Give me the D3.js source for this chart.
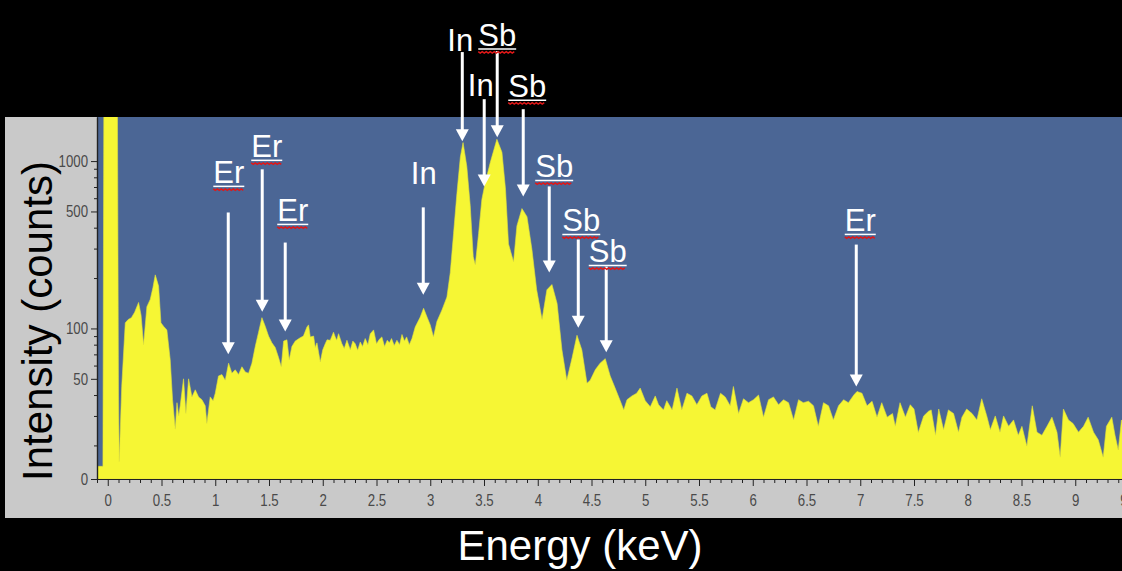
<!DOCTYPE html>
<html><head><meta charset="utf-8">
<script src="https://cdn.jsdelivr.net/npm/d3@7"></script>
<style>body{margin:0;background:#000;} svg{display:block;}</style>
</head><body>
<svg id="chart" width="1122" height="571"></svg>
<script>
// ---- Data ----
const energy = [
 -0.10,-0.045,-0.035,0.088,0.100,0.107,0.13,0.163,0.19,0.22,0.25,0.287,0.31,0.333,0.364,0.395,0.42,0.442,0.473,0.495,
 0.519,0.55,0.581,0.603,0.628,0.644,0.66,0.674,0.705,0.727,0.752,0.783,0.814,0.845,0.876,0.907,0.922,0.953,0.98,1.0,
 1.03,1.062,1.093,1.124,1.155,1.186,1.217,1.248,1.279,1.31,1.341,1.372,1.403,1.434,1.465,1.496,1.527,1.558,1.589,1.614,
 1.636,1.667,1.688,1.713,1.744,1.79,1.82,1.853,1.868,1.884,1.915,1.93,1.946,1.977,2.0,2.023,2.04,2.07,2.1,2.116,
 2.13,2.147,2.178,2.2,2.225,2.256,2.28,2.302,2.325,2.349,2.37,2.395,2.42,2.442,2.473,2.5,2.525,2.55,2.575,2.6,
 2.62,2.64,2.665,2.69,2.715,2.737,2.76,2.78,2.805,2.83,2.86,2.907,2.938,2.97,3.0,3.03,3.062,3.109,3.155,3.186,
 3.217,3.248,3.28,3.305,3.34,3.372,3.40,3.419,3.45,3.48,3.51,3.558,3.62,3.667,3.70,3.728,3.775,3.806,3.853,3.9,
 3.946,3.99,4.04,4.085,4.132,4.18,4.225,4.27,4.32,4.365,4.41,4.458,4.488,4.535,4.58,4.628,4.674,4.72,4.767,4.8,
 4.83,4.876,4.92,4.953,5.0,5.047,5.093,5.124,5.17,5.2,5.25,5.295,5.34,5.388,5.434,5.48,5.527,5.574,5.61,5.65,
 5.70,5.744,5.79,5.82,5.868,5.914,5.96,6.007,6.054,6.10,6.147,6.193,6.24,6.286,6.333,6.38,6.426,6.47,6.519,6.565,
 6.61,6.658,6.705,6.75,6.798,6.845,6.89,6.94,6.97,7.016,7.063,7.11,7.156,7.20,7.25,7.30,7.326,7.37,7.42,7.465,
 7.50,7.54,7.59,7.635,7.66,7.70,7.73,7.775,7.82,7.868,7.914,7.946,7.99,8.04,8.085,8.13,8.18,8.21,8.256,8.30,
 8.333,8.38,8.426,8.47,8.504,8.55,8.60,8.644,8.69,8.737,8.783,8.83,8.86,8.89,8.937,8.98,9.03,9.077,9.12,9.17,
 9.214,9.26,9.29,9.34,9.37,9.40,9.43,9.5
];
const counts = [
 15,15,5000,5000,40,16,45,108,113,116,125,143,120,80,135,149,175,209,179,108,
 103,98,65,37.5,25,36,30,34.5,50,31,50,39,43,39,37.5,34.5,27,39,37,41,
 52,53,49,62,54,56.6,53,59,55,54,62,78,95,116,103,90,82,77,67,59,
 84,85.5,65,78,84,88,90,102,105,89,90,77,82,63,74.5,81,85.5,85,95,89,
 85,93,81,76,85,74.5,84,81,74,83,78,87,80,93,98,81,86,89,78,85,
 82,87,79,85,80,92,84,89,80,87,102,117,132,117,105,89,110,129,154,215,
 370,640,1057,1290,930,540,268,240,370,590,735,980,1350,1130,680,320,250,410,520,465,
 296,170,113,170,183,141,74.5,49,67,91,74.5,47,49,56.6,62,66,52,44,37,32.6,
 37.5,39.5,41,44,37,34,39.5,35,32.6,37,32.6,44,32.6,41,39.5,35,39.5,41,34,32.6,
 41,39,34.5,45,31,38,36,37.5,40,29.5,37.5,39,35,37.5,36,28.4,37.5,36,36.7,34.5,
 26,36,34.5,28.4,34.5,37.5,36,40,42,41,34.5,36.7,29.5,36,29.5,31,26,36,29.5,35,
 33,23.9,30,32,32.6,23,33,24.8,32.6,31,24,29.5,33,31,28.4,38,29.5,24.8,30,24,
 30,26,28.4,23,26,19.8,34.5,24,23,26,29.5,24,17,33,28.4,27,24,26,29.5,24,
 21.6,17,26,29.5,23,18.8,28.4,25
];
const xTickValues = [0,0.5,1,1.5,2,2.5,3,3.5,4,4.5,5,5.5,6,6.5,7,7.5,8,8.5,9,9.5];
const xTickLabels = ["0","0.5","1","1.5","2","2.5","3","3.5","4","4.5","5","5.5","6","6.5","7","7.5","8","8.5","9","9.5"];
const yTickValues = [12.6,50,100,500,1000];
const yTickLabels = ["0","50","100","500","1000"];
const yMinorTicks = [20,30,40,60,70,80,90,200,300,400,600,700,800,900];
const annLabels = ["Er","Er","Er","In","In","Sb","In","Sb","Sb","Sb","Sb","Er"];
const annEnergy = [1.121,1.437,1.651,2.935,3.298,3.623,3.502,3.865,4.107,4.377,4.637,6.963];
const annTip    = [70,126,96,159,1314,1388,706,615,216,101,72,45];
const annTail   = [493,893,326,529,4481,4543,2344,2042,706,340,234,317];
const annLabelE = [1.126,1.479,1.721,2.940,3.279,3.623,3.470,3.902,4.153,4.405,4.651,7.0];
const annLabelC = [736,1053,436,726,4543,4867,2442,2409,799,380,248,380];
const xTitle = "Energy (keV)";
const yTitle = "Intensity (counts)";

// ---- Layout ----
const W = 1122, H = 571;
const plot = {left: 97, right: 1122, top: 117, bottom: 479};
const svg = d3.select("#chart");
const x = d3.scaleLinear().domain([-0.1, 9.5]).range([97, 1129]);
const y = d3.scaleLog().domain([12.6, 1834]).range([plot.bottom, plot.top]);

svg.append("rect").attr("width", W).attr("height", H).attr("fill", "#000");
svg.append("rect").attr("x", 5).attr("y", plot.top).attr("width", W - 5).attr("height", 518 - plot.top).attr("fill", "#c9c9c9");
svg.append("rect").attr("x", plot.left).attr("y", plot.top).attr("width", plot.right - plot.left).attr("height", plot.bottom - plot.top).attr("fill", "#4b6695");

svg.append("clipPath").attr("id", "clip").append("rect")
  .attr("x", plot.left).attr("y", plot.top).attr("width", plot.right - plot.left).attr("height", plot.bottom - plot.top);

const pts = energy.map((e, i) => ({e, c: counts[i]}));
const area = d3.area().x(d => x(d.e)).y0(plot.bottom).y1(d => y(d.c));
svg.append("path").datum(pts).attr("clip-path", "url(#clip)")
  .attr("d", area).attr("fill", "#f6f634").attr("stroke", "#e2e23a").attr("stroke-width", 0.6);

const tickFont = "'Liberation Sans',Arial,sans-serif";
// X axis
const xMinor = d3.range(-1, 96).map(i => i / 10).filter(v => Math.abs(v * 2 - Math.round(v * 2)) > 1e-6);
const gxm = svg.append("g").attr("transform", `translate(0,${plot.bottom})`)
  .call(d3.axisBottom(x).tickValues(xMinor).tickSize(4).tickFormat("").tickSizeOuter(0));
const gx = svg.append("g").attr("transform", `translate(0,${plot.bottom})`)
  .call(d3.axisBottom(x).tickValues(xTickValues).tickSize(7).tickPadding(8).tickSizeOuter(0)
    .tickFormat((d, i) => xTickLabels[i]));
// Y axis
const gym = svg.append("g").attr("transform", `translate(${plot.left},0)`)
  .call(d3.axisLeft(y).tickValues(yMinorTicks).tickSize(3).tickFormat("").tickSizeOuter(0));
const gy = svg.append("g").attr("transform", `translate(${plot.left},0)`)
  .call(d3.axisLeft(y).tickValues(yTickValues).tickSize(6).tickPadding(3).tickSizeOuter(0)
    .tickFormat((d, i) => yTickLabels[i]));
[gx, gy, gxm, gym].forEach(g => {
  g.selectAll("path.domain").attr("stroke", "#222").attr("stroke-width", 1.2);
  g.selectAll(".tick line").attr("stroke", "#222");
  g.selectAll(".tick text").attr("fill", "#4a4a4a").attr("font-size", 17).attr("font-family", tickFont)
    .style("transform-box", "fill-box").style("transform", "scaleX(0.78)");
});
gx.selectAll(".tick text").style("transform-origin", "50% 50%");
gy.selectAll(".tick text").style("transform-origin", "100% 50%");

// Titles
svg.append("text").attr("x", 580).attr("y", 560).attr("text-anchor", "middle")
  .attr("font-family", "'Liberation Sans',Arial,sans-serif").attr("font-size", 42).attr("fill", "#fff").text(xTitle);
svg.append("text").attr("transform", "translate(52,321) rotate(-90)").attr("text-anchor", "middle")
  .attr("font-family", "'Liberation Sans',Arial,sans-serif").attr("font-size", 42).attr("fill", "#000").text(yTitle);

// Annotations
const ann = annLabels.map((t, i) => ({t, e: annEnergy[i], tip: annTip[i], tail: annTail[i], le: annLabelE[i], lc: annLabelC[i]}));
const ga = svg.append("g");
const head = 12, headW = 13;
ann.forEach(a => {
  const ax = x(a.e), ty = y(a.tip), sy = y(a.tail);
  ga.append("line").attr("x1", ax).attr("x2", ax).attr("y1", sy).attr("y2", ty - head + 1)
    .attr("stroke", "#fff").attr("stroke-width", 3);
  ga.append("path").attr("d", `M${ax - headW / 2},${ty - head}L${ax + headW / 2},${ty - head}L${ax},${ty}Z`).attr("fill", "#fff");
  const lx = x(a.le), ly = y(a.lc);
  const txt = ga.append("text").attr("x", lx).attr("y", ly).attr("text-anchor", "middle")
    .attr("font-family", "'Liberation Sans',Arial,sans-serif").attr("font-size", 31).attr("fill", "#fff").text(a.t);
  if (a.t !== "In") {
    const w = txt.node().getComputedTextLength();
    const x0 = lx - w / 2, x1 = lx + w / 2;
    ga.append("line").attr("x1", x0).attr("x2", x1).attr("y1", ly + 3).attr("y2", ly + 3)
      .attr("stroke", "#fff").attr("stroke-width", 1.5);
    const zz = [];
    for (let xx = x0, k = 0; xx <= x1; xx += 2, k++) zz.push([xx, ly + 5.5 + (k % 2 ? 1.5 : 0)]);
    ga.append("path").attr("d", d3.line()(zz)).attr("fill", "none").attr("stroke", "#e01818").attr("stroke-width", 1.5);
  }
});
</script>
</body></html>
